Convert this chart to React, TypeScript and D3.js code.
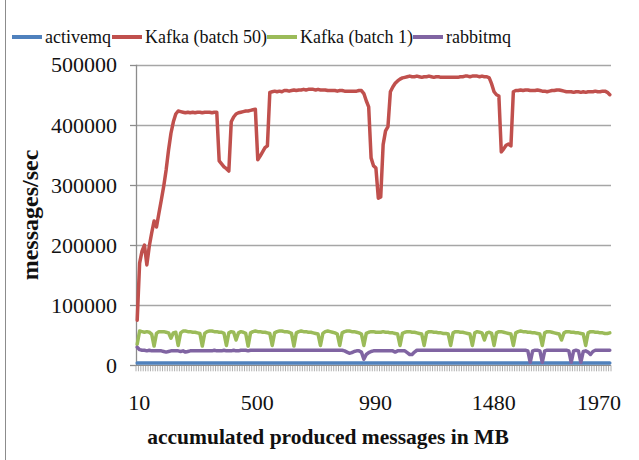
import { useEffect, useRef } from "react";
import * as d3 from "d3";

// categories: accumulated produced messages in MB (10 .. 1970, step 10)
const categories = d3.range(10, 1980, 10);
const xTickLabels = [10, 500, 990, 1480, 1970];
const yTickLabels = ["0", "100000", "200000", "300000", "400000", "500000"];

// values in thousands of messages/sec
const activemq = [
  4, 4, 4, 4, 4, 4, 4, 4, 4, 4, 4, 4, 4, 4, 4, 4, 4, 4, 4, 4,
  4, 4, 4, 4, 4, 4, 4, 4, 4, 4, 4, 4, 4, 4, 4, 4, 4, 4, 4, 4,
  4, 4, 4, 4, 4, 4, 4, 4, 4, 4, 4, 4, 4, 4, 4, 4, 4, 4, 4, 4,
  4, 4, 4, 4, 4, 4, 4, 4, 4, 4, 4, 4, 4, 4, 4, 4, 4, 4, 4, 4,
  4, 4, 4, 4, 4, 4, 4, 4, 4, 4, 4, 4, 4, 4, 4, 4, 4, 4, 4, 4,
  4, 4, 4, 4, 4, 4, 4, 4, 4, 4, 4, 4, 4, 4, 4, 4, 4, 4, 4, 4,
  4, 4, 4, 4, 4, 4, 4, 4, 4, 4, 4, 4, 4, 4, 4, 4, 4, 4, 4, 4,
  4, 4, 4, 4, 4, 4, 4, 4, 4, 4, 4, 4, 4, 4, 4, 4, 4, 4, 4, 4,
  4, 4, 4, 4, 4, 4, 4, 4, 4, 4, 4, 4, 4, 4, 4, 4, 4, 4, 4, 4,
  4, 4, 4, 4, 4, 4, 4, 4, 4, 4, 4, 4, 4, 4, 4, 4, 4,
];

const kafka50 = [
  75, 170, 190, 200, 167, 198, 220, 240, 230, 253,
  275, 298, 325, 358, 386, 405, 418, 423, 422, 421,
  420, 421, 420, 421, 420, 421, 421, 420, 421, 421,
  421, 420, 421, 421, 340, 335, 330, 327, 323, 405,
  413, 418, 420, 421, 422, 423, 423, 424, 425, 426,
  342, 348, 355, 362, 365, 454, 455, 456, 455, 456,
  455, 457, 457, 456, 457, 458, 457, 458, 458, 459,
  458, 459, 459, 459, 458, 459, 458, 458, 458, 457,
  457, 457, 457, 456, 457, 457, 456, 456, 456, 456,
  456, 456, 457, 457, 452, 440, 430, 345, 332, 328,
  278, 280, 367, 390, 397, 455, 463, 469, 473, 476,
  478, 479, 480, 481, 480, 480, 481, 480, 479, 480,
  480, 481, 480, 479, 480, 480, 479, 479, 479, 479,
  479, 479, 479, 479, 480, 480, 481, 481, 480, 481,
  481, 481, 480, 481, 480, 480, 478, 468, 455, 450,
  448, 355, 360, 366, 368, 365, 455, 457, 457, 458,
  457, 458, 458, 457, 457, 457, 458, 457, 456, 456,
  455, 456, 457, 457, 458, 458, 457, 456, 455, 455,
  455, 454, 455, 455, 454, 455, 454, 455, 455, 455,
  456, 455, 455, 456, 456, 454, 450,
];

const kafka1 = [
  35, 57, 56, 55, 56, 55, 52, 32, 53, 56,
  56, 56, 55, 54, 45, 54, 55, 33, 54, 57,
  57, 56, 56, 55, 55, 54, 53, 32, 53, 56,
  57, 57, 56, 56, 55, 55, 53, 33, 54, 56,
  55, 42, 54, 56, 55, 53, 32, 54, 56, 57,
  56, 56, 55, 55, 54, 53, 33, 54, 56, 57,
  57, 56, 56, 55, 53, 32, 54, 56, 57, 56,
  56, 55, 55, 54, 53, 52, 33, 53, 56, 57,
  56, 55, 54, 52, 33, 54, 56, 57, 57, 56,
  56, 55, 54, 52, 33, 53, 55, 56, 56, 55,
  55, 55, 56, 55, 55, 54, 54, 53, 52, 33,
  53, 55, 56, 56, 55, 55, 54, 53, 52, 33,
  54, 56, 56, 55, 55, 54, 54, 53, 53, 52,
  33, 54, 56, 56, 55, 55, 54, 53, 52, 33,
  54, 56, 55, 54, 42, 54, 55, 53, 33, 54,
  56, 56, 55, 54, 53, 52, 33, 54, 56, 57,
  56, 56, 55, 55, 54, 54, 53, 52, 33, 54,
  56, 56, 55, 54, 53, 52, 42, 54, 56, 56,
  55, 55, 54, 54, 53, 52, 33, 54, 56, 56,
  55, 55, 54, 54, 53, 53, 54,
];

const rabbitmq = [
  30, 26, 25, 25, 24, 25, 24, 24, 24, 24,
  24, 23, 22, 23, 24, 24, 24, 24, 23, 24,
  22, 23, 24, 24, 24, 24, 24, 24, 24, 24,
  24, 24, 25, 24, 24, 24, 25, 24, 24, 24,
  25, 24, 24, 25, 25, 25, 24, 25, 25, 25,
  25, 25, 25, 25, 25, 25, 25, 25, 25, 25,
  25, 25, 25, 25, 25, 25, 25, 25, 25, 25,
  25, 25, 25, 25, 25, 25, 25, 25, 25, 25,
  25, 25, 25, 25, 25, 25, 24, 22, 20, 21,
  23, 24, 24, 22, 10, 18, 21, 23, 24, 24,
  24, 24, 24, 24, 24, 24, 24, 22, 24, 24,
  24, 24, 21, 18, 18, 22, 25, 25, 25, 25,
  25, 25, 25, 25, 25, 25, 25, 25, 25, 25,
  25, 25, 25, 25, 25, 25, 25, 25, 25, 25,
  25, 25, 25, 25, 25, 25, 25, 25, 25, 25,
  25, 25, 25, 25, 25, 25, 25, 25, 25, 25,
  25, 25, 24, 5, 24, 25, 25, 24, 5, 24,
  25, 25, 25, 25, 25, 25, 25, 25, 25, 24,
  5, 24, 25, 24, 5, 23, 24, 22, 18, 23,
  25, 25, 25, 25, 25, 25, 25,
];

const seriesNames = ["activemq", "Kafka (batch 50)", "Kafka (batch 1)", "rabbitmq"];
const seriesColors = ["#4F81BD", "#C0504D", "#9BBB59", "#8064A2"];
const seriesValues = [activemq, kafka50, kafka1, rabbitmq];

const W = 639,
  H = 460;
const plot = { left: 136, right: 611, top: 64.7, bottom: 365.3 };
const serif = "Liberation Serif, DejaVu Serif, Noto Serif, Times New Roman, serif";

export default function App() {
  const ref = useRef<SVGSVGElement>(null);

  useEffect(() => {
    const svg = d3.select(ref.current);
    svg.selectAll("*").remove();

    const x = d3
      .scaleBand<number>()
      .domain(d3.range(categories.length))
      .range([plot.left, plot.right]);
    const cx = (i: number) => (x(i) as number) + x.bandwidth() / 2;
    const y = d3.scaleLinear().domain([0, 500]).range([plot.bottom, plot.top]);

    // chart frame
    svg
      .append("rect")
      .attr("x", 5.5)
      .attr("y", -2)
      .attr("width", 640)
      .attr("height", H + 4)
      .attr("fill", "none")
      .attr("stroke", "#8c8c8c");

    // gridlines
    const yTicks = d3.range(0, 501, 100);
    svg
      .append("g")
      .selectAll("line")
      .data(yTicks.slice(1))
      .join("line")
      .attr("x1", plot.left)
      .attr("x2", plot.right)
      .attr("y1", (d) => Math.round(y(d)) + 0.5)
      .attr("y2", (d) => Math.round(y(d)) + 0.5)
      .attr("stroke", "#a6a6a6")
      .attr("stroke-width", 1.3);

    // y axis
    const yAxis = svg.append("g");
    yAxis
      .append("line")
      .attr("x1", plot.left + 0.5)
      .attr("x2", plot.left + 0.5)
      .attr("y1", plot.top)
      .attr("y2", plot.bottom)
      .attr("stroke", "#8c8c8c")
      .attr("stroke-width", 1.3);
    yAxis
      .selectAll("line.tick")
      .data(yTicks)
      .join("line")
      .attr("class", "tick")
      .attr("x1", plot.left - 6)
      .attr("x2", plot.left)
      .attr("y1", (d) => Math.round(y(d)) + 0.5)
      .attr("y2", (d) => Math.round(y(d)) + 0.5)
      .attr("stroke", "#8c8c8c")
      .attr("stroke-width", 1.3);
    yAxis
      .selectAll("text")
      .data(yTicks)
      .join("text")
      .attr("x", plot.left - 19)
      .attr("y", (d) => y(d))
      .attr("dy", "0.35em")
      .attr("text-anchor", "end")
      .style("font-family", serif)
      .attr("font-size", 22)
      .attr("fill", "#111")
      .text((d, i) => yTickLabels[i]);

    // x axis with a tick between every category
    const xAxis = svg.append("g");
    xAxis
      .selectAll("line.tick")
      .data(d3.range(categories.length + 1))
      .join("line")
      .attr("class", "tick")
      .attr("x1", (i) => plot.left + i * x.step())
      .attr("x2", (i) => plot.left + i * x.step())
      .attr("y1", plot.bottom)
      .attr("y2", plot.bottom + 6)
      .attr("stroke", "#9a9a9a")
      .attr("stroke-width", 0.8);
    xAxis
      .append("line")
      .attr("x1", plot.left)
      .attr("x2", plot.right)
      .attr("y1", plot.bottom)
      .attr("y2", plot.bottom)
      .attr("stroke", "#8c8c8c")
      .attr("stroke-width", 1.3);
    // labels sit under their category, the last one is kept inside the plot edge
    xAxis
      .selectAll("text")
      .data(xTickLabels)
      .join("text")
      .attr("y", 410)
      .attr("text-anchor", "middle")
      .style("font-family", serif)
      .attr("font-size", 22)
      .attr("fill", "#111")
      .text((c) => String(c))
      .attr("x", function (c) {
        const w = (this as SVGTextElement).getComputedTextLength();
        return Math.min(cx(categories.indexOf(c)) + 2, plot.right + 10 - w / 2);
      });

    // series lines
    const line = d3
      .line<number>()
      .x((d, i) => cx(i))
      .y((d) => y(d));
    svg
      .append("g")
      .selectAll("path")
      .data(seriesValues)
      .join("path")
      .attr("d", (d) => line(d))
      .attr("fill", "none")
      .attr("stroke", (d, i) => seriesColors[i])
      .attr("stroke-width", 3.5)
      .attr("stroke-linejoin", "round")
      .attr("stroke-linecap", "round");

    // axis titles
    svg
      .append("text")
      .attr("transform", `translate(38, ${(plot.top + plot.bottom) / 2}) rotate(-90)`)
      .attr("text-anchor", "middle")
      .style("font-family", serif)
      .attr("font-weight", "bold")
      .attr("font-size", 24)
      .attr("fill", "#111")
      .text("messages/sec");
    svg
      .append("text")
      .attr("x", 328)
      .attr("y", 444)
      .attr("text-anchor", "middle")
      .style("font-family", serif)
      .attr("font-weight", "bold")
      .attr("font-size", 21.5)
      .attr("fill", "#111")
      .text("accumulated produced messages in MB");

    // legend
    const legendX = [12, 112, 267, 413];
    const lg = svg
      .append("g")
      .selectAll("g")
      .data(seriesNames)
      .join("g")
      .attr("transform", (d, i) => `translate(${legendX[i]}, 37)`);
    lg.append("line")
      .attr("x1", 0)
      .attr("x2", 30)
      .attr("stroke", (d, i) => seriesColors[i])
      .attr("stroke-width", 4);
    lg.append("text")
      .attr("x", 33)
      .attr("dy", "0.35em")
      .style("font-family", serif)
      .attr("font-size", 18)
      .attr("fill", "#111")
      .text((d) => d);
  }, []);

  return (
    <svg
      ref={ref}
      width={W}
      height={H}
      style={{ position: "absolute", left: 0, top: 0, background: "#fff" }}
    />
  );
}
